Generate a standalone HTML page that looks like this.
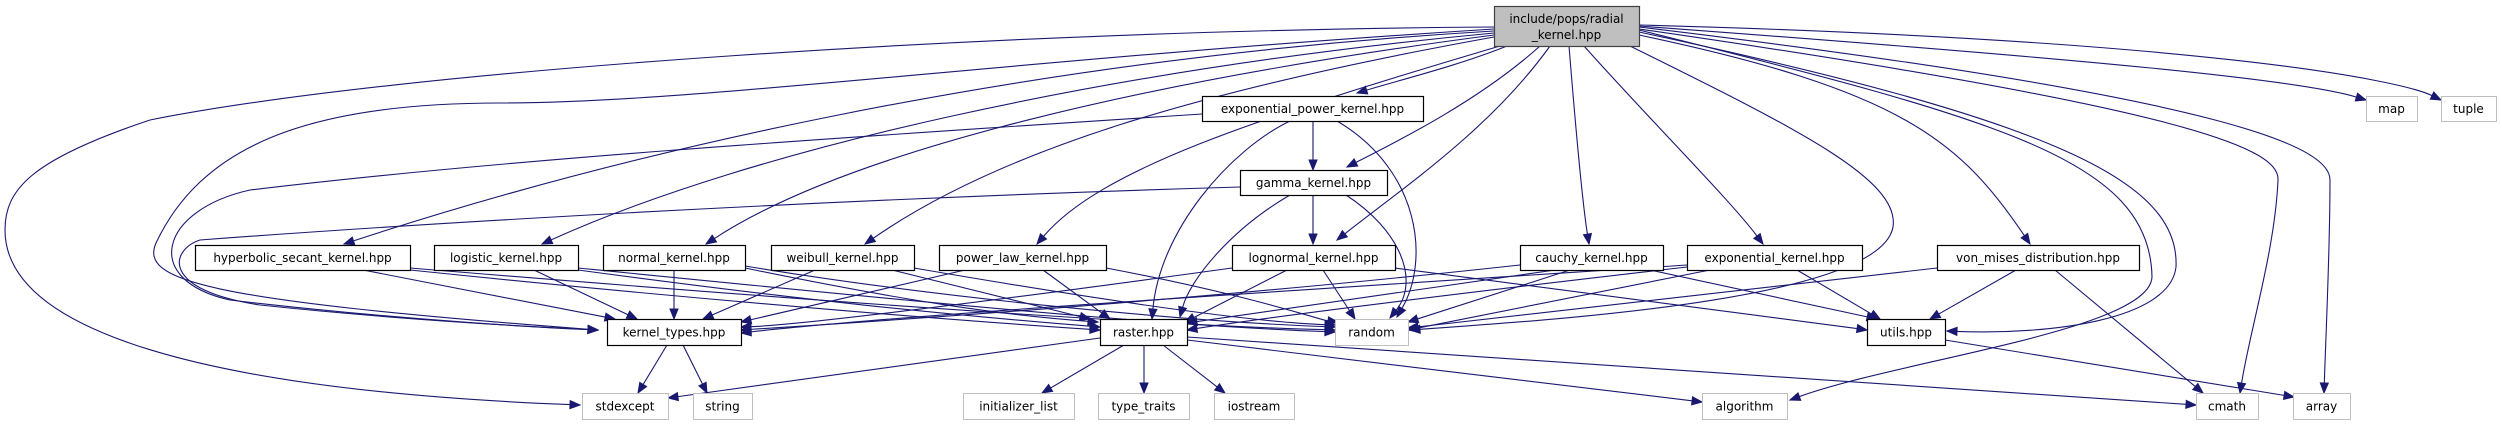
<!DOCTYPE html>
<html><head><meta charset="utf-8"><style>
html,body{margin:0;padding:0;background:#fff;}
svg{display:block;}
text{font-family:"DejaVu Sans","Liberation Sans",sans-serif;font-size:12px;fill:#000;}
</style></head><body>
<svg id="s" width="2502" height="425" viewBox="0 0 2502 425" xmlns="http://www.w3.org/2000/svg">
<g id="edges" fill="none" stroke="#191970" stroke-width="1.1"></g>
<g id="arrows" fill="#191970" stroke="#191970"></g>
<g id="nodes"></g>
</svg>
<script>
var NS="http://www.w3.org/2000/svg";
var nodes=[
 ["include/pops/radial","_kernel.hpp",1494,1639,6,46,0],
 ["exponential_power_kernel.hpp",null,1202,1423,96,121,1],
 ["gamma_kernel.hpp",null,1240,1387,170,195,1],
 ["hyperbolic_secant_kernel.hpp",null,195,410,245,270,1],
 ["logistic_kernel.hpp",null,434,578,245,270,1],
 ["normal_kernel.hpp",null,603,745,245,270,1],
 ["weibull_kernel.hpp",null,771,914,245,270,1],
 ["power_law_kernel.hpp",null,939,1106,245,270,1],
 ["lognormal_kernel.hpp",null,1232,1395,245,270,1],
 ["cauchy_kernel.hpp",null,1520,1663,245,270,1],
 ["exponential_kernel.hpp",null,1687,1862,245,270,1],
 ["von_mises_distribution.hpp",null,1937,2139,245,270,1],
 ["kernel_types.hpp",null,607,741,319,345,1],
 ["raster.hpp",null,1100,1187,319,345,1],
 ["random",null,1335,1408,319,345,2],
 ["utils.hpp",null,1867,1945,319,345,1],
 ["map",null,2366,2417,96,121,2],
 ["tuple",null,2441,2496,96,121,2],
 ["stdexcept",null,582,668,393,419,2],
 ["string",null,693,752,393,419,2],
 ["initializer_list",null,963,1074,393,419,2],
 ["type_traits",null,1098,1189,393,419,2],
 ["iostream",null,1214,1294,393,419,2],
 ["algorithm",null,1702,1787,393,419,2],
 ["cmath",null,2196,2258,393,419,2],
 ["array",null,2293,2350,393,419,2]
];
var E=[
 // root
 [[1494,27],[1000,30],[400,70],[150,120],[30,160],[5,190],[5,230],[5,330],[200,390],[580,405]],
 [[1494,29],[1000,60],[700,103],[500,103],[300,103],[200,150],[156,243],[140,280],[200,300],[598,330]],
 [[1494,31],[1000,60],[600,160],[344,244]],
 [[1494,33],[1100,70],[750,150],[542,244]],
 [[1494,35],[1150,80],[850,150],[706,244]],
 [[1494,37],[1200,90],[1000,150],[865,244]],
 [[1500,46],[1250,120],[1100,170],[1037,244]],
 [[1507,46],[1460,65],[1400,80],[1357,93]],
 [[1540,46],[1480,100],[1400,140],[1347,167]],
 [[1550,46],[1490,130],[1400,190],[1337,240]],
 [[1569,46],[1575,120],[1582,200],[1589,244]],
 [[1584,46],[1650,120],[1730,200],[1763,244]],
 [[1630,46],[1800,130],[1900,180],[1893,227],[1880,300],[1550,320],[1410,330]],
 [[1639,35],[1900,90],[1960,140],[2030,244]],
 [[1639,30],[2000,120],[2150,160],[2152,277],[2150,330],[1900,360],[1790,400]],
 [[1639,32],[2050,120],[2180,180],[2176,267],[2170,320],[2050,335],[1947,331]],
 [[1639,29],[2200,110],[2280,150],[2278,180],[2275,250],[2250,330],[2240,393]],
 [[1639,27],[2250,100],[2330,150],[2330,180],[2330,250],[2326,330],[2324,393]],
 [[1639,26],[2100,60],[2300,80],[2366,100]],
 [[1639,25],[2200,40],[2400,80],[2441,100]],
 // exp_power
 [[1313,121],[1313,170]],
 [[1290,121],[1230,150],[1160,230],[1152,319]],
 [[1337,121],[1420,170],[1430,260],[1397,317]],
 [[1202,114],[800,140],[500,160],[250,190],[160,210],[140,280],[230,300],[400,320],[550,328],[598,330]],
 // gamma
 [[1313,195],[1313,244]],
 [[1290,195],[1230,230],[1190,280],[1180,317]],
 [[1346,195],[1400,230],[1420,280],[1390,318]],
 [[1240,187],[800,200],[400,225],[200,240],[170,250],[160,290],[260,305],[420,322],[560,328],[598,330]],
 // hyperbolic
 [[363,270],[615,319]],
 [[410,270],[700,300],[950,320],[1100,330]],
 [[410,268],[800,300],[1150,325],[1335,330]],
 // logistic
 [[534,270],[637,319]],
 [[578,270],[800,300],[950,315],[1100,327]],
 [[578,268],[900,300],[1150,325],[1335,332]],
 // normal
 [[674,270],[674,319]],
 [[745,268],[900,300],[1000,315],[1098,322]],
 [[745,266],[950,300],[1200,322],[1335,327]],
 // weibull
 [[815,270],[703,319]],
 [[892,270],[1090,319]],
 [[914,268],[1100,300],[1250,322],[1335,325]],
 // power_law
 [[965,270],[741,322]],
 [[1043,270],[1110,319]],
 [[1106,268],[1250,295],[1320,320],[1338,322]],
 // lognormal
 [[1232,268],[1000,300],[800,325],[741,327]],
 [[1287,270],[1185,322]],
 [[1323,270],[1355,319]],
 [[1395,268],[1650,300],[1800,320],[1867,330]],
 // cauchy
 [[1520,265],[1200,300],[900,320],[741,330]],
 [[1555,270],[1187,323]],
 [[1570,270],[1408,322]],
 [[1650,270],[1877,319]],
 // exponential
 [[1687,267],[1400,300],[1250,320],[1187,330]],
 [[1710,270],[1408,330]],
 [[1797,270],[1880,319]],
 [[1687,265],[1300,290],[900,315],[741,333]],
 // von_mises
 [[1937,268],[1408,328]],
 [[2016,270],[1930,319]],
 [[2055,270],[2203,393]],
 // kernel_types
 [[667,345],[638,393]],
 [[683,345],[707,393]],
 // raster
 [[1100,338],[668,398]],
 [[1124,345],[1042,393]],
 [[1144,345],[1144,393]],
 [[1163,345],[1225,393]],
 [[1187,340],[1702,402]],
 [[1187,337],[2196,405]],
 // utils
 [[1945,340],[2294,397]]
];
function mk(t,a,p){var e=document.createElementNS(NS,t);for(var k in a)e.setAttribute(k,a[k]);p.appendChild(e);return e;}
var ge=document.getElementById("edges"),ga=document.getElementById("arrows"),gn=document.getElementById("nodes");
E.forEach(function(p){
 var n=p.length,L=p[n-1],P=p[n-2];
 var dx=L[0]-P[0],dy=L[1]-P[1],d=Math.sqrt(dx*dx+dy*dy)||1;dx/=d;dy/=d;
 var al=10,aw=4;
 var bx=L[0]-dx*al,by=L[1]-dy*al;
 var s="M"+p[0][0]+","+p[0][1];
 if(n==2){s+=" L"+bx+","+by;}
 else{for(var i=1;i+2<n;i+=3){var e=(i+2==n-1)?[bx,by]:p[i+2];s+=" C"+p[i][0]+","+p[i][1]+" "+p[i+1][0]+","+p[i+1][1]+" "+e[0]+","+e[1];}}
 mk("path",{d:s},ge);
 mk("polygon",{points:L[0]+","+L[1]+" "+(bx-dy*aw)+","+(by+dx*aw)+" "+(bx+dy*aw)+","+(by-dx*aw)},ga);
});
nodes.forEach(function(n){
 var x=n[2],w=n[3]-n[2],y=n[4],h=n[5]-n[4],t=n[6];
 var fill=t==0?"#bfbfbf":"#fff",st=t==0?"#404040":(t==1?"#000":"#bfbfbf");
 mk("rect",{x:x+0.5,y:y+0.5,width:w,height:h,fill:fill,stroke:st,"stroke-width":t==2?1:1.2},gn);
 var cx=x+w/2;
 if(n[1]){
  var a=mk("text",{x:cx,y:y+17,"text-anchor":"middle"},gn);a.textContent=n[0];
  var b=mk("text",{x:cx,y:y+33,"text-anchor":"middle"},gn);b.textContent=n[1];
 }else{
  var c=mk("text",{x:cx,y:y+h/2+4.5,"text-anchor":"middle"},gn);c.textContent=n[0];
 }
});
</script>
</body></html>
